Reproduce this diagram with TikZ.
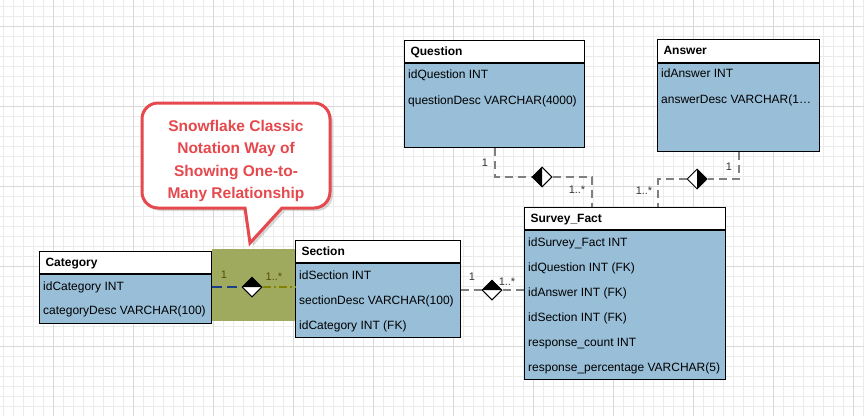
\documentclass[tikz,border=0pt]{standalone}
\usepackage{fontspec}
\setmainfont{Liberation Sans}
\usetikzlibrary{positioning, shapes.geometric, shadows}

\definecolor{tblue}{RGB}{152,190,216}
\definecolor{calred}{RGB}{229,72,77}
\definecolor{olivebg}{RGB}{160,170,94}
\definecolor{linkgrey}{RGB}{128,128,128}
\definecolor{linkblue}{RGB}{30,60,140}
\definecolor{linkolive}{RGB}{130,130,0}
\definecolor{labolive}{RGB}{80,80,10}

\begin{document}
\begin{tikzpicture}[x = 1pt, y = -1pt, % one unit = one pixel, y down
    node distance = 0pt, % body sits right under its header
    font = \fontsize{12}{14}\selectfont
  ]

  \tikzstyle{minorgrid}=[draw = black!8, line width = 1pt]
  \tikzstyle{majorgrid}=[draw = black!15, line width = 1pt]
  \tikzstyle{head}=[draw = black, fill = white, line width = 1pt,
    anchor = north west, minimum height = 22pt, inner xsep = 6pt,
    text height = 9pt, text depth = 2pt, align = left,
    font = \fontsize{12}{14}\selectfont\bfseries]
  \tikzstyle{tbody}=[draw = black, fill = tblue, line width = 1pt,
    inner sep = 0pt]
  \tikzstyle{row}=[anchor = west, inner sep = 0pt, text height = 9pt,
    text depth = 2.5pt]
  \tikzstyle{rel}=[diamond, draw = black, fill = white, line width = 1pt,
    minimum width = 20pt, minimum height = 20pt, inner sep = 0pt]
  \tikzstyle{topfill}=[path picture = {\fill[black]
    (path picture bounding box.west) -- (path picture bounding box.north)
    -- (path picture bounding box.east) -- cycle;}]
  \tikzstyle{leftfill}=[path picture = {\fill[black]
    (path picture bounding box.north) -- (path picture bounding box.west)
    -- (path picture bounding box.south) -- cycle;}]
  \tikzstyle{rightfill}=[path picture = {\fill[black]
    (path picture bounding box.north) -- (path picture bounding box.east)
    -- (path picture bounding box.south) -- cycle;}]
  \tikzstyle{link}=[draw = linkgrey, line width = 2pt,
    dash pattern = on 8pt off 5pt]
  \tikzstyle{card}=[inner sep = 0pt, text = black!80,
    font = \fontsize{11}{12}\selectfont]
  \tikzstyle{callout}=[draw = calred, line width = 3pt, fill = white,
    drop shadow = {shadow xshift = 3pt, shadow yshift = -3pt, opacity = 0.3}]

  \useasboundingbox (0,0) rectangle (864,416);
  \fill[white] (0,0) rectangle (864,416);

  % background grid
  \foreach \gx in {3.3,13.3,...,863.3} \draw[minorgrid] (\gx,0) -- (\gx,416);
  \foreach \gy in {6.7,16.7,...,416} \draw[minorgrid] (0,\gy) -- (864,\gy);
  \foreach \gx in {53,133,...,864} \draw[majorgrid] (\gx,0) -- (\gx,416);
  \foreach \gy in {26.7,106.7,...,416} \draw[majorgrid] (0,\gy) -- (864,\gy);

  % highlighted relationship
  \fill[olivebg] (212,249) rectangle (295,321);

  % tables
  \node[head, text width = 160pt] (C) at (39,251) {Category};
  \node[tbody, minimum width = 172pt, minimum height = 49pt, below = of C] (Cb) {};
  \foreach \r [count=\i] in {idCategory INT, categoryDesc VARCHAR(100)}
    \node[row] (Cr\i) at ([xshift = 4pt, yshift = {-(13+24*(\i-1))*1pt}]Cb.north west) {\r};

  \node[head, text width = 153pt] (S) at (295,240) {Section};
  \node[tbody, minimum width = 165pt, minimum height = 74pt, below = of S] (Sb) {};
  \foreach \r [count=\i] in {idSection INT, sectionDesc VARCHAR(100), idCategory INT (FK)}
    \node[row] (Sr\i) at ([xshift = 4pt, yshift = {-(13+25*(\i-1))*1pt}]Sb.north west) {\r};

  \node[head, text width = 168pt] (Q) at (404,40) {Question};
  \node[tbody, minimum width = 180pt, minimum height = 84pt, below = of Q] (Qb) {};
  \foreach \r [count=\i] in {idQuestion INT, questionDesc VARCHAR(4000)}
    \node[row] (Qr\i) at ([xshift = 4pt, yshift = {-(12+26*(\i-1))*1pt}]Qb.north west) {\r};

  \node[head, text width = 150pt, minimum height = 23pt] (A) at (657,39) {Answer};
  \node[tbody, minimum width = 162pt, minimum height = 88pt, below = of A] (Ab) {};
  \foreach \r [count=\i] in {idAnswer INT, answerDesc VARCHAR(1…}
    \node[row] (Ar\i) at ([xshift = 4pt, yshift = {-(11+26*(\i-1))*1pt}]Ab.north west) {\r};

  \node[head, text width = 189pt] (F) at (524,207) {Survey\_Fact};
  \node[tbody, minimum width = 201pt, minimum height = 149pt, below = of F] (Fb) {};
  \foreach \r [count=\i] in {idSurvey\_Fact INT, idQuestion INT (FK), idAnswer INT (FK),
      idSection INT (FK), response\_count INT, response\_percentage VARCHAR(5)}
    \node[row] (Fr\i) at ([xshift = 4pt, yshift = {-(13+25*(\i-1))*1pt}]Fb.north west) {\r};

  % relationship diamonds
  \node[rel, topfill] (dm1) at (252,287) {};
  \node[rel, topfill] (dm2) at (492,290) {};
  \node[rel, leftfill] (dm3) at (542,177) {};
  \node[rel, rightfill] (dm4) at (697,179) {};
  \coordinate (f1) at (592,207);
  \coordinate (f2) at (658,207);

  \draw[draw = linkblue, line width = 1.5pt, dash pattern = on 10pt off 5pt]
    (dm1.west -| Cb.east) -- (dm1.west);
  \draw[draw = linkolive, line width = 1.5pt, dash pattern = on 8pt off 3pt on 2pt off 3pt]
    (dm1.east) -- (dm1.east -| Sb.west);
  \draw[link] (dm2.west -| Sb.east) -- (dm2.west);
  \draw[link] (dm2.east) -- (dm2.east -| Fb.west);
  \draw[link] (Qb.south) |- (dm3.west);
  \draw[link] (dm3.east) -| (f1);
  \draw[link] (Ab.south) |- (dm4.east);
  \draw[link] (dm4.west) -| (f2);

  % cardinalities
  \node[card, text = labolive] (c1a) at (224,275) {1};
  \node[card, text = labolive] (c1b) at (274,277) {1..*};
  \node[card] (c2a) at (472,277) {1};
  \node[card] (c2b) at (507,282) {1..*};
  \node[card] (c3a) at (485,163) {1};
  \node[card] (c3b) at (577,190) {1..*};
  \node[card] (c4a) at (729,167) {1};
  \node[card] (c4b) at (644,191) {1..*};

  % callout
  \draw[callout] (245,208) [rounded corners = 16pt] -- (142,208) -- (142,103)
    -- (330,103) -- (330,208) [sharp corners] -- (282,208) -- (250,243) -- cycle;
  \node[text = calred, align = center, font = \fontsize{15.5}{22.3}\selectfont\bfseries]
    (note) at (236,161) {Snowflake Classic\\Notation Way of\\Showing One-to-\\Many Relationship};
\end{tikzpicture}
\end{document}
